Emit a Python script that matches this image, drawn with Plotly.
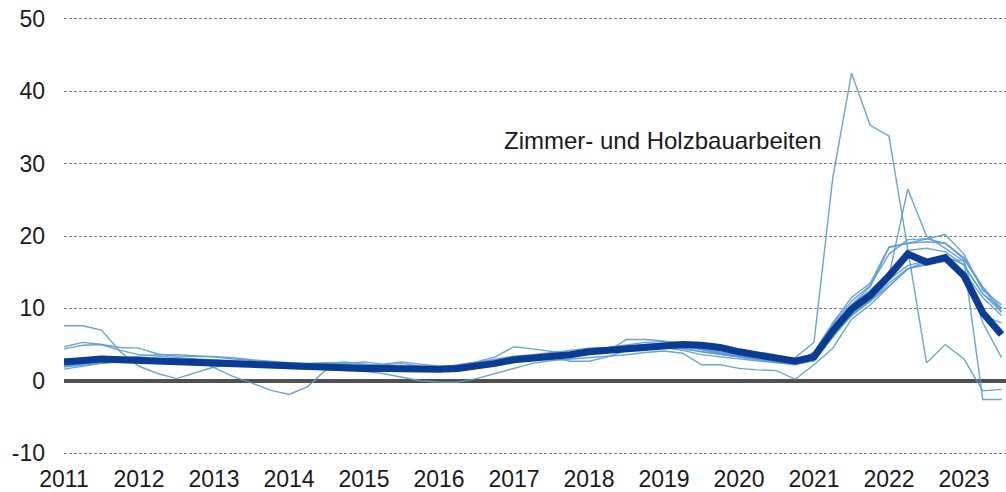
import plotly.graph_objects as go

# Quarterly observations 2011Q1 .. 2023Q3 (51 points)
quarters = [2011 + i / 4 for i in range(51)]

year_ticks = list(range(2011, 2024))
year_labels = [str(y) for y in year_ticks]
y_ticks = [-10, 0, 10, 20, 30, 40, 50]
y_labels = ["-10", "0", "10", "20", "30", "40", "50"]

thick_series = [
    2.6, 2.8, 3.0, 2.9,
    2.8, 2.7, 2.6, 2.5,
    2.4, 2.3, 2.2, 2.1,
    1.9, 1.9, 1.8, 1.8,
    1.7, 1.7, 1.6, 1.6,
    1.6, 1.7, 2.0, 2.4,
    2.9, 3.1, 3.3, 3.6,
    4.0, 4.2, 4.4, 4.6,
    4.9, 5.0, 4.9, 4.6,
    4.0, 3.6, 3.2, 2.7,
    3.3, 6.9, 9.9, 11.8,
    14.5, 17.5, 16.4, 17.0,
    14.5, 9.4, 6.4,
]

thin_1 = [7.6, 7.6, 7.0, 4.0, 2.0, 1.0, 0.3, 1.1, 1.9, 2.3, 2.5, 2.6, 2.3, 2.1, 2.2, 2.3,
          2.0, 1.8, 1.7, 1.6, 1.5, 1.8, 2.2, 2.6, 3.0, 3.4, 3.7, 3.9, 4.2, 4.5, 4.8, 5.0,
          5.1, 5.0, 4.6, 4.1, 3.8, 3.3, 2.9, 2.5, 3.8, 6.0, 9.0, 11.0, 13.5, 15.5, 16.0, 16.5,
          15.0, 11.5, 9.0]
thin_2 = [4.7, 5.3, 5.0, 4.2, 3.6, 3.4, 3.3, 3.0, 1.8, 0.6, -0.3, -1.3, -1.9, -0.8, 1.6, 2.2,
          2.3, 2.1, 2.0, 1.9, 1.7, 1.9, 2.3, 2.8, 3.2, 3.5, 3.4, 3.7, 4.1, 4.4, 4.6, 4.9,
          5.2, 5.1, 4.3, 3.8, 3.5, 3.1, 2.8, 2.4, 3.6, 7.5, 10.5, 12.5, 15.0, 18.0, 18.3, 17.8,
          16.0, 12.0, 9.5]
thin_3 = [4.4, 4.9, 5.0, 4.6, 4.5, 3.7, 3.4, 3.4, 3.3, 3.0, 2.8, 2.6, 2.4, 2.4, 2.5, 2.4,
          2.6, 2.3, 2.6, 2.3, 2.0, 2.1, 2.5, 2.9, 3.4, 3.6, 3.9, 4.1, 4.5, 4.6, 4.9, 5.3,
          5.4, 5.3, 4.6, 4.4, 3.9, 3.4, 2.9, 2.4, 4.0, 8.0, 11.5, 13.5, 18.5, 19.0, 19.2, 19.0,
          17.0, 13.0, 10.0]
thin_4 = [2.2, 2.5, 2.7, 2.8, 2.9, 2.8, 2.7, 2.7, 2.5, 2.4, 2.3, 2.2, 2.0, 2.1, 2.2, 2.4,
          2.0, 2.2, 2.4, 2.0, 1.8, 1.9, 2.2, 2.5, 2.9, 3.2, 3.5, 3.8, 4.1, 4.3, 4.5, 4.7,
          4.8, 4.7, 4.3, 3.9, 3.6, 3.3, 3.1, 3.2, 5.3, 28.0, 42.5, 35.3, 33.8, 18.2, 2.5, 5.0,
          3.0, -1.4, -1.2]
thin_5 = [1.9, 2.2, 2.5, 2.7, 2.6, 2.5, 2.4, 2.3, 2.2, 2.1, 2.0, 1.9, 1.8, 1.6, 1.5, 1.5,
          1.5, 1.4, 1.4, 1.5, 1.6, 1.8, 2.1, 2.5, 2.7, 3.0, 3.3, 3.6, 3.9, 4.1, 4.3, 4.5,
          4.6, 4.4, 4.0, 3.6, 3.2, 2.9, 2.6, 2.4, 2.7, 6.0, 9.5, 12.0, 14.5, 26.5, 20.0, 18.3,
          16.5, -2.6, -2.6]
thin_6 = [2.0, 2.3, 2.6, 2.7, 2.8, 2.9, 3.0, 3.0, 2.9, 2.8, 2.6, 2.4, 2.2, 2.0, 1.9, 1.8,
          1.8, 1.8, 1.7, 1.6, 1.6, 1.7, 2.1, 2.6, 3.0, 3.2, 3.4, 3.7, 4.0, 4.3, 4.6, 4.8,
          5.0, 5.0, 4.7, 4.3, 3.9, 3.5, 3.1, 2.8, 3.5, 7.5, 10.5, 13.0, 18.4, 19.0, 19.6, 20.2,
          17.5, 12.5, 10.5]
thin_7 = [1.6, 2.0, 2.4, 2.6, 2.6, 2.5, 2.3, 2.4, 2.3, 2.1, 2.0, 1.9, 1.7, 1.7, 1.6, 1.5,
          1.3, 1.0, 0.5, 0.0, -0.2, -0.2, 0.3, 1.0, 1.8, 2.4, 2.8, 3.0, 3.2, 3.4, 3.6, 3.9,
          4.1, 3.8, 2.2, 2.2, 1.7, 1.5, 1.4, 0.2, 2.2, 4.5, 8.5, 10.5, 13.0, 15.5, 16.2, 16.8,
          16.6, 8.0, 3.2]
thin_8 = [2.4, 2.6, 2.8, 3.0, 3.4, 3.6, 3.6, 3.5, 3.4, 3.2, 2.9, 2.7, 2.5, 2.3, 2.4, 2.6,
          2.3, 2.0, 1.9, 1.7, 1.8, 2.2, 2.6, 3.3, 4.7, 4.4, 4.0, 3.7, 3.8, 4.2, 4.6, 4.7,
          4.6, 4.2, 3.6, 3.3, 3.0, 2.7, 2.4, 2.2, 2.8, 6.5, 9.0, 11.2, 14.0, 15.9, 16.6, 17.2,
          16.0, 12.0, 10.0]
thin_9 = [3.0, 3.1, 3.1, 3.0, 2.9, 2.9, 2.8, 2.7, 2.6, 2.5, 2.5, 2.4, 2.3, 2.2, 2.1, 2.0,
          1.9, 1.9, 1.8, 1.8, 1.9, 2.0, 2.3, 2.6, 2.8, 3.0, 3.2, 3.4, 3.7, 4.1, 5.7, 5.7,
          5.5, 5.0, 4.3, 3.8, 3.5, 3.1, 2.7, 2.5, 3.0, 7.8, 11.0, 13.2, 17.5, 19.5, 19.6, 19.0,
          16.8, 12.8, 9.5]
thin_10 = [2.8, 3.0, 3.2, 3.3, 3.2, 3.1, 3.0, 2.9, 2.8, 2.6, 2.5, 2.4, 2.2, 2.0, 1.8, 1.7,
           1.6, 1.5, 1.5, 1.4, 1.5, 1.7, 2.0, 2.4, 2.8, 3.2, 3.3, 2.7, 2.7, 3.3, 4.2, 4.6,
           4.8, 4.5, 4.0, 3.6, 3.3, 3.0, 2.6, 2.4, 3.1, 6.2, 9.2, 11.0, 13.1, 15.4, 16.6, 16.7,
           14.0, 9.0, 8.0]

thin_series = [thin_1, thin_2, thin_3, thin_4, thin_5, thin_6, thin_7, thin_8, thin_9, thin_10]

label_text = "Zimmer- und Holzbauarbeiten"

FONT = "Liberation Sans, Arial, sans-serif"
THIN_COLOR = "#5b9bd5"
THICK_COLOR = "#0a3c94"

fig = go.Figure()
for s in thin_series:
    fig.add_trace(go.Scatter(x=quarters, y=s, mode="lines",
                             line=dict(color=THIN_COLOR, width=1.4),
                             opacity=0.9, showlegend=False, hoverinfo="skip"))
fig.add_trace(go.Scatter(x=quarters, y=thick_series, mode="lines",
                         line=dict(color=THICK_COLOR, width=7),
                         showlegend=False))

fig.add_annotation(x=2016.84, y=33.2, text=label_text, showarrow=False,
                   xanchor="left", yanchor="middle",
                   font=dict(family=FONT, size=24, color="#1a1a1a"))

fig.update_layout(
    width=1006, height=492,
    margin=dict(l=64, r=0, t=16, b=36),
    paper_bgcolor="white", plot_bgcolor="white",
    font=dict(family=FONT, size=23, color="#1a1a1a"),
    showlegend=False,
)
fig.update_xaxes(
    range=[2011, 2011 + 942 / 75], tickvals=year_ticks, ticktext=year_labels,
    showgrid=False, zeroline=False, showline=False, ticks="",
    ticklabelstandoff=7, automargin=False,
)
fig.update_yaxes(
    range=[-10.4, 50.4], tickvals=y_ticks, ticktext=y_labels,
    showgrid=True, gridcolor="#808080", gridwidth=1, griddash="3px,2px",
    zeroline=True, zerolinecolor="#505050", zerolinewidth=4,
    showline=False, ticks="", ticklabelstandoff=18, automargin=False,
)

fig.write_html("out.html",
               config={"displayModeBar": False},
               post_script="document.body.style.margin='0';document.body.style.padding='0';")
